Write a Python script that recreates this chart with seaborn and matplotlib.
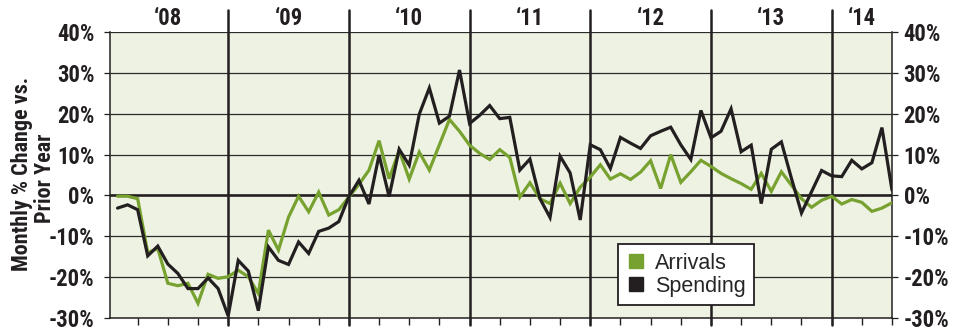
import os
import numpy as np
import pandas as pd
import matplotlib
matplotlib.use("Agg")
import matplotlib.pyplot as plt
import matplotlib.font_manager as fm
from matplotlib.lines import Line2D
import seaborn as sns

# ---- data (monthly, Jan 2008 .. Jun 2014) ----
arrivals = [-0.2, -0.2, -0.8, -14.0, -13.0, -21.5, -22.1, -21.5, -26.4, -19.3, -20.3, -19.9,
            -18.3, -19.9, -24.0, -8.5, -13.4, -5.3, -0.2, -4.0, 0.8, -4.8, -3.5, -0.4,
            2.7, 6.2, 13.4, 4.1, 11.0, 4.0, 10.6, 6.2, 12.4, 18.6, 15.7, 12.3,
            10.3, 8.8, 11.2, 9.3, -0.4, 3.1, -0.8, -2.0, 3.0, -2.0, 2.0, 4.5,
            7.5, 4.0, 5.3, 3.9, 5.7, 8.5, 1.7, 10.0, 3.2, 5.8, 8.6, 7.1,
            5.4, 4.1, 2.9, 1.5, 5.4, 1.0, 5.8, 2.5, -0.8, -2.9, -1.2, -0.2,
            -2.1, -1.0, -1.7, -3.9, -3.1, -1.8]
spending = [-3.1, -2.3, -3.5, -14.8, -12.4, -16.8, -19.1, -22.8, -22.8, -20.2, -22.8, -29.5,
            -15.9, -18.5, -28.2, -12.6, -15.9, -16.9, -11.4, -14.2, -8.8, -8.0, -6.4, -0.3,
            3.7, -2.1, 9.9, -0.3, 11.3, 7.4, 19.9, 26.3, 17.7, 19.4, 30.7, 17.6,
            19.6, 22.0, 18.8, 19.1, 6.2, 8.9, -0.8, -5.4, 9.6, 5.5, -6.0, 12.4,
            11.2, 6.6, 14.2, 12.8, 11.5, 14.6, 15.7, 16.7, 12.4, 8.8, 20.8, 14.1,
            15.7, 21.2, 10.7, 12.3, -2.0, 11.3, 13.1, 4.2, -4.3, 0.9, 6.1, 4.8,
            4.6, 8.6, 6.5, 8.0, 16.6, 1.3]
year_labels = ["\u201808", "\u201809", "\u201810", "\u201811", "\u201812", "\u201813", "\u201814"]
year_label_pos = [6, 18, 30, 42, 54, 66, 75]
year_lines = [12, 24, 36, 48, 60, 72]
series_names = ["Arrivals", "Spending"]
y_ticks = [-30, -20, -10, 0, 10, 20, 30, 40]
y_ticklabels = [f"{v}%" for v in y_ticks]
ylabel_lines = ["Monthly % Change vs.", "Prior Year"]

GREEN = "#77A22F"
BLACK = "#231F20"
BG = "#EEF2E3"

month = np.arange(1, len(arrivals) + 1)
df = pd.DataFrame({
    "month": np.concatenate([month, month]),
    "value": arrivals + spending,
    "series": [series_names[0]] * len(arrivals) + [series_names[1]] * len(spending),
})

sns.set_theme(style="ticks")
plt.rcParams["font.family"] = ["Liberation Sans", "DejaVu Sans"]

# pick a condensed bold face if one is installed
def pick_bold():
    cands = [("RobotoCondensed-Bold.ttf", 16.3),
             ("LiberationSansNarrow-Bold.ttf", 16.8),
             ("DejaVuSansCondensed-Bold.ttf", 14.0),
             ("LiberationSans-Bold.ttf", 13.5)]
    files = {os.path.basename(f.fname): f.fname for f in fm.fontManager.ttflist}
    for name, size in cands:
        if name in files:
            return files[name], size
    return None, 12.5

BOLD_FILE, BSIZE = pick_bold()

def bold(scale=1.0):
    if BOLD_FILE:
        return fm.FontProperties(fname=BOLD_FILE, size=BSIZE * scale)
    return fm.FontProperties(family="DejaVu Sans", weight="bold", size=BSIZE * scale)

W, H = 966, 332
AX_BOTTOM, AX_H = 14.0, 286.0
fig = plt.figure(figsize=(W / 100, H / 100), dpi=100)
ax = fig.add_axes([110 / W, AX_BOTTOM / H, 782 / W, AX_H / H])
ax.set_facecolor(BG)

for v in [40, 30, 20, 10, -10, -20]:
    ax.axhline(v, color="#2b2b2b", lw=0.9, zorder=1)
ax.axhline(0, color=BLACK, lw=1.9, zorder=1)

sns.lineplot(data=df, x="month", y="value", hue="series",
             palette={"Arrivals": GREEN, "Spending": BLACK},
             linewidth=2.3, ax=ax, legend=False, zorder=3)
for ln in ax.lines:
    ln.set_solid_joinstyle("miter")

for x in year_lines:
    ax.axvline(x, ymin=-7 / AX_H, ymax=1 + 22 / AX_H, color=BLACK, lw=1.8,
               clip_on=False, zorder=2)
for lab, x in zip(year_labels, year_label_pos):
    ax.text(x, 1 + 13.5 / AX_H, lab, transform=ax.get_xaxis_transform(),
            ha="center", va="center", fontproperties=bold(), color=BLACK)

ax.set_xlim(0.25, 78)
ax.set_ylim(-30, 40)
ax.set_xticks(np.arange(3, 79, 3))
ax.set_xticklabels([])
ax.tick_params(axis="x", length=5, width=1.0, color=BLACK, direction="out")
ax.set_yticks(y_ticks)
ax.set_yticklabels(y_ticklabels)
ax.tick_params(axis="y", length=4.3, width=0.9, color=BLACK, pad=7,
               labelcolor=BLACK)
for lab in ax.get_yticklabels():
    lab.set_fontproperties(bold())
ax.set_xlabel("")
ax.set_ylabel("")

sec = ax.secondary_yaxis("right")
sec.set_yticks(y_ticks)
sec.set_yticklabels(y_ticklabels)
sec.tick_params(axis="y", length=4.3, width=0.9, color=BLACK, pad=4,
                labelcolor=BLACK)
for lab in sec.get_yticklabels():
    lab.set_fontproperties(bold())
sec.spines["right"].set_color(BLACK)
sec.spines["right"].set_linewidth(1.1)

for s in ["left", "bottom"]:
    ax.spines[s].set_color(BLACK)
    ax.spines[s].set_linewidth(1.1)
ax.spines["top"].set_visible(False)
ax.spines["right"].set_visible(False)

# two-line rotated axis title, each line placed separately
fig.text(22 / W, 1 - 173.5 / H, ylabel_lines[0], rotation=90,
         ha="center", va="center", fontproperties=bold(0.98), color=BLACK)
fig.text(45 / W, 1 - 178 / H, ylabel_lines[1], rotation=90,
         ha="center", va="center", fontproperties=bold(0.98), color=BLACK)

handles = [Line2D([], [], marker="s", linestyle="none", markersize=10.5,
                  color=GREEN),
           Line2D([], [], marker="s", linestyle="none", markersize=10.5,
                  color=BLACK)]
leg = ax.legend(handles, series_names, loc="lower left",
                bbox_to_anchor=(0.65, 0.045), borderaxespad=0,
                frameon=True, fancybox=False, framealpha=1, edgecolor=BLACK,
                prop={"family": ["Liberation Sans", "DejaVu Sans"], "size": 15.5},
                handlelength=0.8, handletextpad=0.5, labelspacing=0.08,
                borderpad=0.4)
leg.get_frame().set_linewidth(1.3)
leg.get_frame().set_facecolor("white")
leg.set_zorder(5)

fig.savefig("out.png", dpi=100, facecolor="white")
